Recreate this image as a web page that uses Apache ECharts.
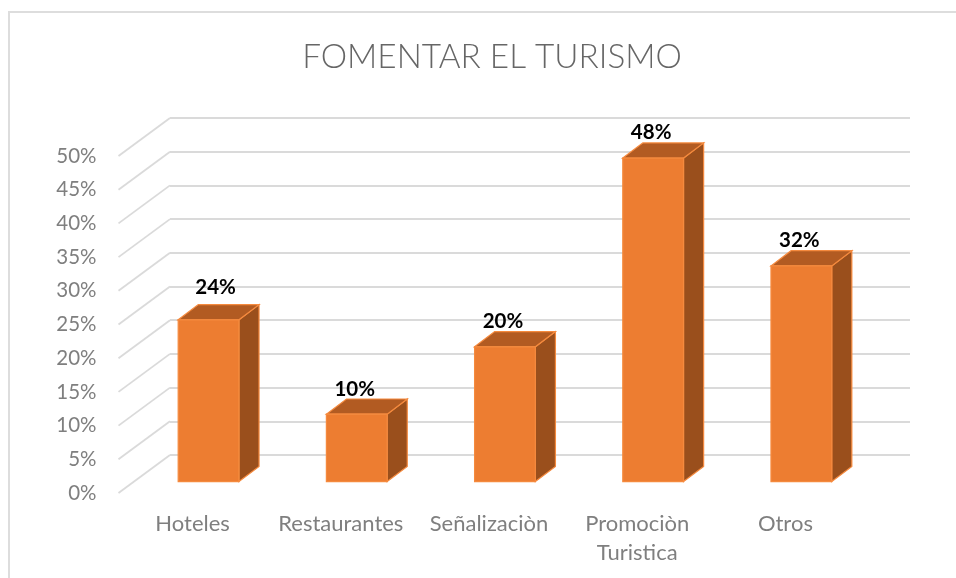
<!DOCTYPE html>
<html>
<head>
<meta charset="utf-8">
<style>html,body{margin:0;padding:0;background:#fff}#c{width:956px;height:578px}</style>
<script src="https://cdn.jsdelivr.net/npm/echarts@6/dist/echarts.min.js"></script>
</head>
<body>
<div id="c"></div>
<script>
const categories = ['Hoteles', 'Restaurantes', 'Señalizaciòn', 'Promociòn\nTuristica', 'Otros'];
const values = [24, 10, 20, 48, 32];
const yTicks = [0, 5, 10, 15, 20, 25, 30, 35, 40, 45, 50];
const titleText = 'FOMENTAR EL TURISMO';

const font = 'Lato';
const depthX = 51.5, depthY = 38;      // total floor depth
const frontFrac = 0.31, backFrac = 0.7; // where the bar sits in that depth
const barFrac = 0.41;                  // bar width share of a category band

const chart = echarts.init(document.getElementById('c'), null, {renderer: 'canvas'});

function renderBar(params, api) {
  const cat = api.value(0), val = api.value(1);
  const top = api.coord([cat, val]);
  const base = api.coord([cat, 0]);
  const w = api.size([1, 0])[0] * barFrac;
  const fx = depthX * frontFrac, fy = depthY * 0.3;
  const bx = depthX * backFrac, by = depthY * backFrac;
  const x0 = top[0] + fx - w / 2, x1 = x0 + w;
  const yt = top[1] - fy, yb = base[1] - fy;
  const dx = bx - fx, dy = by - fy;
  const edge = '#F58A3E';
  // the first label sits further up and to the right than the others
  const moved = cat === 0;
  return {
    type: 'group',
    children: [
      {type: 'polygon', shape: {points: [[x1, yt], [x1 + dx, yt - dy], [x1 + dx, yb - dy], [x1, yb]]},
        style: {fill: '#9A4F1C', stroke: edge, lineWidth: 1.2}},
      {type: 'polygon', shape: {points: [[x0, yt], [x0 + dx, yt - dy], [x1 + dx, yt - dy], [x1, yt]]},
        style: {fill: '#B25B22', stroke: edge, lineWidth: 1.2}},
      {type: 'rect', shape: {x: x0, y: yt, width: w, height: yb - yt},
        style: {fill: '#ED7D31', stroke: edge, lineWidth: 1.2}},
      {type: 'text', style: {
        text: api.value(1) + '%',
        x: (x0 + x1) / 2 + (moved ? 7 : -2),
        y: yt - dy - (moved ? 17 : 10),
        align: 'center', verticalAlign: 'middle',
        font: 'bold 20.5px ' + font, fill: '#000'}}
    ]
  };
}

function renderSlant(params, api) {
  const p = api.coord([0, api.value(0)]);
  const x = params.coordSys.x;
  return {type: 'line', shape: {x1: x, y1: p[1], x2: x + depthX, y2: p[1] - depthY},
    style: {stroke: '#DADADA', lineWidth: 1.8}};
}

chart.setOption({
  animation: false,
  backgroundColor: '#fff',
  title: {text: titleText, left: 487, textAlign: 'center', top: 36, itemGap: 0,
    textStyle: {fontFamily: font, fontSize: 33.3, fontWeight: 300, color: '#666666'}},
  grid: [
    {left: 118.5, top: 156, width: 741, height: 337},
    {left: 170, top: 118, width: 740, height: 337}
  ],
  xAxis: [
    {type: 'category', gridIndex: 0, data: categories,
      axisLine: {show: false}, axisTick: {show: false}, splitLine: {show: false},
      axisLabel: {fontFamily: font, fontSize: 22, color: '#7F7F7F', margin: 16, lineHeight: 29, interval: 0}},
    {type: 'category', gridIndex: 1, data: categories, show: false}
  ],
  yAxis: [
    {type: 'value', gridIndex: 0, min: 0, max: 50, interval: 5,
      axisLine: {show: false}, axisTick: {show: false}, splitLine: {show: false},
      axisLabel: {fontFamily: font, fontSize: 20.5, color: '#7F7F7F', margin: 22, padding: [3, 0, 0, 0], formatter: '{value}%'}},
    {type: 'value', gridIndex: 1, min: 0, max: 50, interval: 5,
      axisLine: {show: false}, axisTick: {show: false}, axisLabel: {show: false},
      splitLine: {show: true, lineStyle: {color: '#DADADA', width: 2}}}
  ],
  series: [
    {type: 'custom', xAxisIndex: 0, yAxisIndex: 0, silent: true, z: 1,
      data: yTicks.map(v => [v]), encode: {y: 0}, renderItem: renderSlant},
    {type: 'custom', xAxisIndex: 0, yAxisIndex: 0, silent: true, z: 3,
      data: values.map((v, i) => [i, v]), encode: {x: 0, y: 1}, renderItem: renderBar}
  ],
  graphic: [
    {type: 'polyline', silent: true, z: 0, shape: {points: [[9, 578], [9, 12], [956, 12]]},
      style: {stroke: '#DDDDDD', lineWidth: 2, fill: null}}
  ]
});
</script>
</body>
</html>
